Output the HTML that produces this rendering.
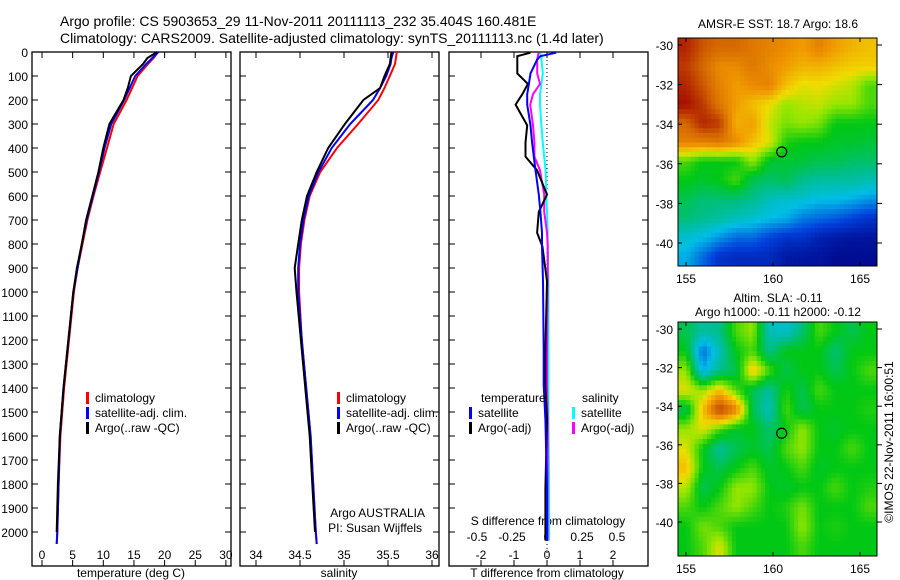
<!DOCTYPE html>
<html><head><meta charset="utf-8">
<style>
body{margin:0;background:#fff;}
svg{display:block;font-family:"Liberation Sans",sans-serif;}
text{fill:#000;}
</style></head>
<body>
<svg id="fig" width="900" height="580" viewBox="0 0 900 580">
<text x="60" y="26" font-size="14">Argo profile: CS 5903653_29 11-Nov-2011 20111113_232 35.404S 160.481E</text>
<text x="60" y="43" font-size="14">Climatology: CARS2009. Satellite-adjusted climatology: synTS_20111113.nc (1.4d later)</text>
<g id="g"></g>
</svg>
<script>
// ---- profile data ----
const depths=[0,25,50,100,150,200,300,400,500,600,700,800,900,1000,1200,1400,1600,1800,2000,2050];
const tempClim=[18.9,18.2,17.3,15.6,14.7,13.8,11.7,10.6,9.5,8.4,7.4,6.6,5.8,5.2,4.4,3.6,3.0,2.7,2.5,2.4];
const tempSat=[19.0,18.0,17.0,15.2,14.3,13.4,11.3,10.2,9.3,8.3,7.3,6.5,5.8,5.1,4.3,3.5,2.9,2.7,2.5,2.4];
const tempArgo=[18.8,17.2,16.5,14.5,14.0,13.3,11.0,10.0,9.2,8.2,7.2,6.5,5.7,5.1,4.3,3.5,2.9,2.6,2.4,2.4];
const salClim=[35.60,35.59,35.58,35.52,35.46,35.39,35.16,34.92,34.73,34.61,34.55,34.51,34.49,34.49,34.52,34.57,34.62,34.65,34.68,34.69];
const salSat=[35.56,35.54,35.53,35.48,35.41,35.33,35.07,34.86,34.71,34.60,34.54,34.50,34.48,34.48,34.52,34.57,34.62,34.65,34.68,34.69];
const salArgo=[35.54,35.53,35.52,35.46,35.41,35.22,35.01,34.82,34.69,34.58,34.52,34.48,34.44,34.46,34.51,34.56,34.61,34.64,34.67,34.68];
const diffDepths=[3,17,32,89,133,176,219,306,378,436,493,594,666,753,810,955,1243,1387,1531,1820,2036];
const diffTArgo=[-0.5,-0.9,-0.9,-0.9,-0.58,-0.75,-0.95,-0.6,-0.65,-0.65,-0.3,0,-0.25,-0.3,-0.14,0,-0.05,-0.05,0,-0.05,-0.05];
const diffTSat=[0.28,-0.2,-0.3,-0.5,-0.55,-0.6,-0.6,-0.5,-0.45,-0.4,-0.35,-0.25,-0.2,-0.15,-0.15,-0.12,-0.1,-0.1,-0.05,0,0];
const diffSArgo=[-0.06,-0.065,-0.07,-0.07,-0.05,-0.1,-0.12,-0.1,-0.09,-0.09,-0.05,-0.02,-0.02,0,0.005,0.005,0,0,0.005,0.005,0.005];
const diffSSat=[-0.05,-0.04,-0.04,-0.03,-0.04,-0.05,-0.05,-0.04,-0.03,-0.02,-0.01,-0.005,0,0.005,0.005,0.01,0.01,0.01,0.01,0.015,0.015];
const depthTicks=[0,100,200,300,400,500,600,700,800,900,1000,1100,1200,1300,1400,1500,1600,1700,1800,1900,2000];
const tempTicks=[0,5,10,15,20,25,30];
const salTicks=[34,34.5,35,35.5,36];
const dTTicks=[-2,-1,0,1,2];
const dSTicks=[-0.5,-0.25,0,0.25,0.5];
// ---- map data (normalized colour index 0..1) ----
const sstGrid=[
[.95,.88,.85,.85,.82,.8,.78,.75,.8,.75,.72,.7],
[.92,.85,.78,.78,.82,.78,.75,.72,.72,.7,.68,.68],
[.95,.88,.8,.75,.78,.8,.7,.65,.66,.64,.62,.55],
[.98,.92,.82,.75,.7,.66,.6,.62,.63,.6,.6,.55],
[.85,.95,.92,.72,.75,.63,.58,.6,.58,.5,.5,.5],
[.8,.8,.82,.78,.7,.65,.52,.5,.5,.48,.48,.47],
[.55,.5,.5,.5,.6,.48,.47,.47,.45,.45,.43,.43],
[.5,.48,.5,.55,.45,.43,.45,.4,.38,.38,.38,.36],
[.45,.42,.42,.42,.4,.35,.33,.33,.3,.3,.28,.25],
[.42,.4,.38,.35,.33,.3,.28,.22,.2,.18,.15,.12],
[.33,.3,.25,.2,.2,.15,.12,.12,.08,.06,.05,.05],
[.28,.2,.12,.1,.1,.1,.06,.05,.05,.03,.03,.03]];
const slaGrid=[
[.45,.38,.4,.55,.6,.35,.33,.42,.55,.5,.45,.5],
[.5,.2,.35,.5,.55,.4,.5,.5,.5,.42,.5,.5],
[.6,.28,.4,.45,.7,.55,.45,.5,.5,.45,.5,.55],
[.65,.6,.7,.55,.45,.38,.52,.45,.55,.5,.5,.5],
[.45,.7,.92,.8,.45,.35,.55,.45,.5,.5,.5,.52],
[.6,.65,.55,.48,.5,.42,.5,.6,.5,.48,.5,.5],
[.65,.5,.38,.45,.48,.45,.55,.6,.5,.5,.55,.5],
[.7,.5,.45,.5,.55,.48,.5,.55,.48,.5,.5,.5],
[.62,.45,.5,.6,.6,.5,.48,.5,.5,.55,.5,.52],
[.55,.5,.55,.6,.55,.5,.52,.58,.5,.5,.5,.55],
[.5,.58,.55,.5,.5,.5,.5,.6,.5,.52,.5,.5],
[.5,.55,.65,.5,.5,.5,.5,.55,.5,.5,.5,.5]];
const latTicks=[30,32,34,36,38,40];
const lonTicks=[155,160,165];
const argoPos=[160.5,35.4];

const NS='http://www.w3.org/2000/svg';
const G=document.getElementById('g');
function el(tag,attrs,parent){const e=document.createElementNS(NS,tag);for(const k in attrs)e.setAttribute(k,attrs[k]);(parent||G).appendChild(e);return e;}
function txt(x,y,s,size,anchor){const t=el('text',{x:x,y:y,'font-size':size||12,'text-anchor':anchor||'start'});t.textContent=s;return t;}
const PT=52,PB=566;
const yD=d=>PT+d*0.24;

function panel(x0,x1,name){
  const r=el('rect',{x:x0,y:PT,width:x1-x0,height:PB-PT,fill:'none',stroke:'#000','stroke-width':1.3});
  
  
}
function depthTicksOn(x0,x1,labels){
  depthTicks.forEach(d=>{const y=yD(d);
    el('line',{x1:x0,x2:x0+6,y1:y,y2:y,stroke:'#000'});
    el('line',{x1:x1,x2:x1-6,y1:y,y2:y,stroke:'#000'});
    if(labels){const t=txt(28,y+5,String(d),12,'end');}
  });
}
function line(xs,ds,xf,color,name){
  const p=xs.map((v,i)=>xf(v).toFixed(1)+','+yD(ds[i]).toFixed(1)).join(' ');
  const e=el('polyline',{points:p,fill:'none',stroke:color,'stroke-width':2});
  
  
}
function xTicks(ticks,xf,labelY,fmt,name){
  ticks.forEach(v=>{const x=xf(v);
    el('line',{x1:x,x2:x,y1:PB,y2:PB-6,stroke:'#000'});
    el('line',{x1:x,x2:x,y1:PT,y2:PT+6,stroke:'#000'});
    if(labelY){const t=txt(x,labelY,fmt(v),12,'middle');}
  });
}
function legend(x,y,items,name){
  items.forEach((it,i)=>{
    el('rect',{x:x,y:y+i*15-10,width:3,height:12,fill:it[0]});
    const t=txt(x+9,y+i*15,it[1],12);
    
    
  });
}

// Panel 1 temperature
const xT=v=>42+v*6.13;
panel(32,231,'temperature-panel');
depthTicksOn(32,231,true);
xTicks(tempTicks,xT,559,String,'temp-tick-label');
line(tempClim,depths,xT,'#f00','temp-climatology-line');
line(tempSat,depths,xT,'#00f','temp-satellite-line');
line(tempArgo.slice(0,19),depths.slice(0,19),xT,'#000','temp-argo-line');
txt(131,577,'temperature (deg C)',12,'middle');
legend(86,402,[['#f00','climatology'],['#00f','satellite-adj. clim.'],['#000','Argo(..raw -QC)']],'temp-legend');

// Panel 2 salinity
const xS=v=>256+(v-34)*88;
panel(240,439,'salinity-panel');
depthTicksOn(240,439,false);
xTicks(salTicks,xS,559,v=>String(v),'sal-tick-label');
line(salClim,depths,xS,'#f00','sal-climatology-line');
line(salSat,depths,xS,'#00f','sal-satellite-line');
line(salArgo.slice(0,19),depths.slice(0,19),xS,'#000','sal-argo-line');
txt(339,577,'salinity',12,'middle');
legend(337,402,[['#f00','climatology'],['#00f','satellite-adj. clim.'],['#000','Argo(..raw -QC)']],'sal-legend');
txt(425,517,'Argo AUSTRALIA',12,'end');
txt(422,532,'PI: Susan Wijffels',12,'end');

// Panel 3 differences
const xdT=v=>547+v*33;
const xdS=v=>547+v*140;
panel(449,648,'difference-panel');
depthTicksOn(449,648,false);
el('line',{x1:547,x2:547,y1:PT,y2:PB,stroke:'#000','stroke-dasharray':'1,3'});
xTicks(dTTicks,xdT,559,String,'dT-tick-label');
dSTicks.forEach(v=>{const t=txt(xdS(v),541,String(v),12,'middle');});
txt(548,525,'S difference from climatology',12,'middle');
txt(547,577,'T difference from climatology',12,'middle');
line(diffSSat,diffDepths,xdS,'#0ff','dS-satellite-line');
line(diffSArgo,diffDepths,xdS,'#f0f','dS-argo-line');
line(diffTArgo,diffDepths,xdT,'#000','dT-argo-line');
line(diffTSat,diffDepths,xdT,'#00f','dT-satellite-line');
txt(481,402,'temperature',12);
legend(469,417,[['#00f','satellite'],['#000','Argo(-adj)']],'dT-legend');
txt(582,402,'salinity',12);
legend(572,417,[['#0ff','satellite'],['#f0f','Argo(-adj)']],'dS-legend');

// Maps
const cmapStops=[[0,[0,0,128]],[0.15,[0,64,220]],[0.3,[0,190,230]],[0.4,[0,190,140]],[0.5,[0,200,20]],[0.6,[150,230,0]],[0.66,[240,220,0]],[0.76,[240,150,0]],[0.86,[210,100,0]],[1,[160,0,0]]];
function cmap(v){
  v=Math.max(0,Math.min(1,v));
  for(let i=1;i<cmapStops.length;i++){
    const a=cmapStops[i-1],b=cmapStops[i];
    if(v<=b[0]){const t=(v-a[0])/(b[0]-a[0]);
      const c=a[1].map((x,k)=>Math.round(x+(b[1][k]-x)*t));
      return 'rgb('+c.join(',')+')';}
  }
  return 'rgb(160,0,0)';
}
function sample(grid,fy,fx){
  const nr=grid.length,nc=grid[0].length;
  const y=Math.max(0,Math.min(nr-1,fy)),x=Math.max(0,Math.min(nc-1,fx));
  const y0=Math.floor(y),x0=Math.floor(x),y1=Math.min(nr-1,y0+1),x1=Math.min(nc-1,x0+1);
  const ty=y-y0,tx=x-x0;
  return (grid[y0][x0]*(1-tx)+grid[y0][x1]*tx)*(1-ty)+(grid[y1][x0]*(1-tx)+grid[y1][x1]*tx)*ty;
}
function map(grid,top,bot,lat30y,lat40y,name,title1,title2){
  const L=678,R=877;
  const xL=lon=>686+(lon-155)*17.4;
  const yL=lat=>lat30y+(lat-30)*(lat40y-lat30y)/10;
  const nr=grid.length,nc=grid[0].length,up=4;
  const NR=nr*up,NC=nc*up;
  const cw=(R-L)/NC,ch=(bot-top)/NR;
  const cg=el('g',{});
  
  
  for(let i=0;i<NR;i++)for(let j=0;j<NC;j++){
    const v=sample(grid,(i+0.5)/up-0.5,(j+0.5)/up-0.5);
    el('rect',{x:(L+j*cw).toFixed(2),y:(top+i*ch).toFixed(2),width:(cw+0.5).toFixed(2),height:(ch+0.5).toFixed(2),fill:cmap(v)},cg);
  }
  el('rect',{x:L,y:top,width:R-L,height:bot-top,fill:'none',stroke:'#000'});
  latTicks.forEach(l=>{const y=yL(l);
    el('line',{x1:L,x2:L+4,y1:y,y2:y,stroke:'#000'});
    el('line',{x1:R,x2:R+5,y1:y,y2:y,stroke:'#000'});
    const t=txt(L-5,y+5,'-'+l,12,'end');
  });
  lonTicks.forEach(l=>{const x=xL(l);
    el('line',{x1:x,x2:x,y1:bot,y2:bot-4,stroke:'#000'});
    el('line',{x1:x,x2:x,y1:top,y2:top+4,stroke:'#000'});
    const t=txt(x,bot+17,String(l),12,'middle');
  });
  const c=el('circle',{cx:xL(argoPos[0]),cy:yL(argoPos[1]),r:5,fill:'none',stroke:'#000','stroke-width':1.2});
  
  
  if(title2){txt(778,top-20,title1,12,'middle');txt(778,top-6,title2,12,'middle');}
  else txt(778,top-10,title1,12,'middle');
}
map(sstGrid,38,266,45,243,'sst-map','AMSR-E SST: 18.7 Argo: 18.6');
map(slaGrid,322,556,329,522,'sla-map','Altim. SLA: -0.11','Argo h1000: -0.11 h2000: -0.12');
const im=txt(0,0,'©IMOS 22-Nov-2011 16:00:51',12,'middle');
im.setAttribute('transform','translate(893,442) rotate(-90)');


</script>
</body></html>
